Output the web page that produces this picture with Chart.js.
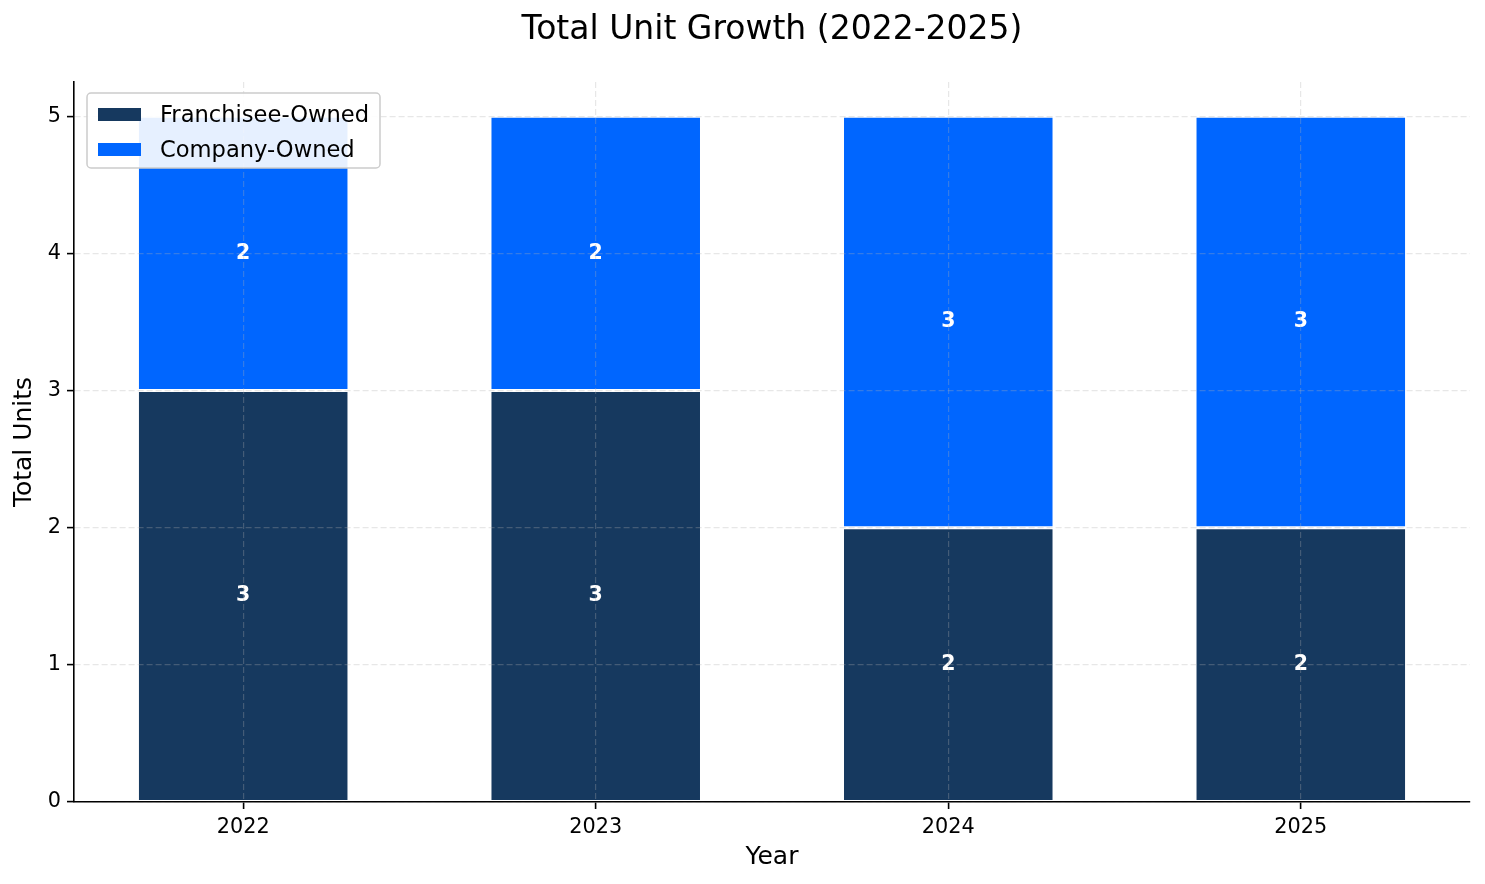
<!DOCTYPE html>
<html>
<head>
<meta charset="utf-8">
<script src="https://cdn.jsdelivr.net/npm/chart.js@4"></script>
<style>
  body { margin: 0; background: #fff; }
  #chart { display: block; }
</style>
</head>
<body>
<canvas id="chart" width="1485" height="884"></canvas>
<script>
// data
const years = ["2022", "2023", "2024", "2025"]
const franchiseeOwned = [3, 3, 2, 2]
const companyOwned = [2, 2, 3, 3]
const yTicks = [0, 1, 2, 3, 4, 5]
const chartTitle = "Total Unit Growth (2022-2025)"

const navy = "#16395f"
const blue = "#0066ff"
const gridColor = "rgba(176,176,176,0.3)"

Chart.defaults.font.family = "'DejaVu Sans', sans-serif"
Chart.defaults.color = "#000"

// title centred over the plot area, like matplotlib does
const plotTitle = {
  id: "plotTitle",
  afterDraw(chart) {
    const ctx = chart.ctx
    const a = chart.chartArea
    ctx.save()
    ctx.fillStyle = "#000"
    ctx.font = "33px 'DejaVu Sans', sans-serif"
    ctx.textAlign = "center"
    ctx.textBaseline = "middle"
    ctx.fillText(chartTitle, (a.left + a.right) / 2, 30)
    ctx.restore()
  }
}

// white numbers in the middle of every segment
const segmentLabels = {
  id: "segmentLabels",
  afterDatasetsDraw(chart) {
    const ctx = chart.ctx
    ctx.save()
    ctx.fillStyle = "#fff"
    ctx.font = "bold 20.5px 'DejaVu Sans', sans-serif"
    ctx.textAlign = "center"
    ctx.textBaseline = "middle"
    chart.data.datasets.forEach((ds, i) => {
      chart.getDatasetMeta(i).data.forEach((bar, j) => {
        const v = ds.data[j].y
        ctx.fillText(String(v), bar.x, (bar.y + bar.base) / 2)
      })
    })
    ctx.restore()
  }
}

// legend box in the upper left corner of the plot
const boxLegend = {
  id: "boxLegend",
  afterDraw(chart) {
    const ctx = chart.ctx
    const a = chart.chartArea
    const x = a.left + 13, y = a.top + 11, w = 293, h = 75
    ctx.save()
    ctx.beginPath()
    ctx.roundRect(x, y, w, h, 4)
    ctx.fillStyle = "rgba(255,255,255,0.9)"
    ctx.fill()
    ctx.strokeStyle = "#cccccc"
    ctx.lineWidth = 1.5
    ctx.stroke()
    ctx.font = "22.6px 'DejaVu Sans', sans-serif"
    ctx.textBaseline = "middle"
    chart.data.datasets.forEach((ds, i) => {
      const rowY = y + 22 + i * 35
      ctx.fillStyle = ds.backgroundColor
      ctx.fillRect(x + 11, rowY - 7, 43, 13)
      ctx.fillStyle = "#000"
      ctx.fillText(ds.label, x + 73, rowY + 1)
    })
    ctx.restore()
  }
}

new Chart(document.getElementById("chart"), {
  type: "bar",
  data: {
    datasets: [
      {
        label: "Franchisee-Owned",
        data: years.map((yr, i) => ({ x: i, y: franchiseeOwned[i] })),
        backgroundColor: navy,
        borderColor: "#fff",
        borderWidth: 1.5,
        borderSkipped: false,
        categoryPercentage: 0.6,
        barPercentage: 1
      },
      {
        label: "Company-Owned",
        data: years.map((yr, i) => ({ x: i, y: companyOwned[i] })),
        backgroundColor: blue,
        borderColor: "#fff",
        borderWidth: 1.5,
        borderSkipped: false,
        categoryPercentage: 0.6,
        barPercentage: 1
      }
    ]
  },
  options: {
    responsive: false,
    animation: false,
    devicePixelRatio: 1,
    layout: { padding: { left: 0, right: 15, top: 82, bottom: 0 } },
    plugins: {
      legend: { display: false },
      tooltip: { enabled: false },
      title: { display: false }
    },
    scales: {
      x: {
        type: "linear",
        stacked: true,
        offset: false,
        min: -0.48,
        max: 3.48,
        afterFit(scale) { scale.height = 82 },
        afterBuildTicks(scale) { scale.ticks = years.map((yr, i) => ({ value: i })) },
        ticks: {
          autoSkip: false,
          maxRotation: 0,
          font: { size: 20.8 },
          color: "#000",
          padding: 6,
          callback: (v) => years[v] ?? ""
        },
        grid: {
          z: 1,
          offset: false,
          color: gridColor,
          lineWidth: 1.2,
          tickColor: "#000",
          tickWidth: 1.6,
          tickLength: 7
        },
        border: { z: 2, color: "#000", width: 1.6, dash: [6, 3] },
        title: {
          display: true,
          text: "Year",
          font: { size: 25 },
          color: "#000",
          padding: { top: 4, bottom: 12 }
        }
      },
      y: {
        stacked: true,
        min: 0,
        max: 5.25,
        afterFit(scale) { scale.width = 74 },
        afterBuildTicks(scale) { scale.ticks = yTicks.map(v => ({ value: v })) },
        ticks: {
          font: { size: 20.8 },
          color: "#000",
          padding: 6
        },
        grid: {
          z: 1,
          color: gridColor,
          lineWidth: 1.2,
          tickColor: "#000",
          tickWidth: 1.6,
          tickLength: 7
        },
        border: { z: 2, color: "#000", width: 1.6, dash: [6, 3] },
        title: {
          display: true,
          text: "Total Units",
          font: { size: 25 },
          color: "#000",
          padding: { top: 9, bottom: 4 }
        }
      }
    }
  },
  plugins: [segmentLabels, boxLegend, plotTitle]
})
</script>
</body>
</html>
